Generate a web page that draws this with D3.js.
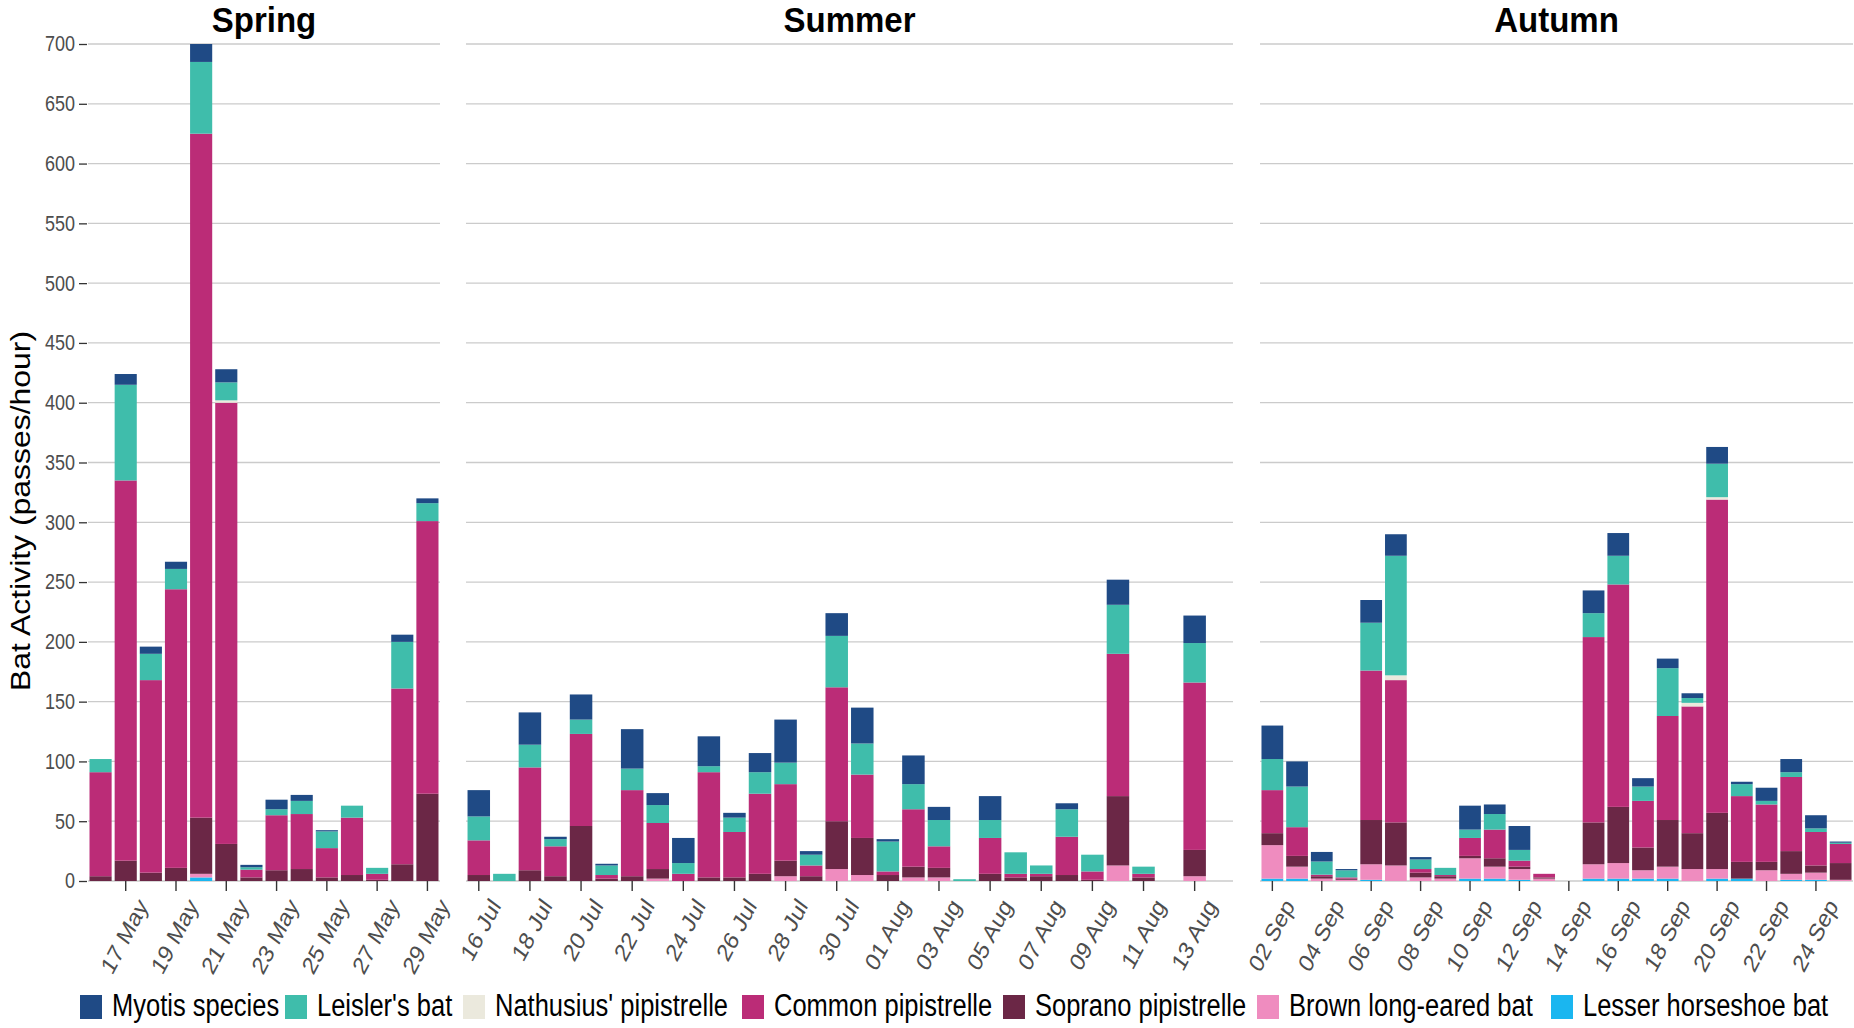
<!DOCTYPE html>
<html>
<head>
<meta charset="utf-8">
<script src="https://cdn.jsdelivr.net/npm/d3@7"></script>
<style>
  html, body { margin: 0; padding: 0; background: #fff; }
  svg { display: block; font-family: "Liberation Sans", Arial, sans-serif; }
</style>
</head>
<body>
<svg id="chart" width="1854" height="1028"></svg>
<script>
// ---------- DATA ----------
const seasons = ["Spring", "Summer", "Autumn"];

const springDates = ["2019-05-16","2019-05-17","2019-05-18","2019-05-19","2019-05-20","2019-05-21","2019-05-22","2019-05-23","2019-05-24","2019-05-25","2019-05-26","2019-05-27","2019-05-28","2019-05-29"];
const summerDates = ["2019-07-16","2019-07-17","2019-07-18","2019-07-19","2019-07-20","2019-07-21","2019-07-22","2019-07-23","2019-07-24","2019-07-25","2019-07-26","2019-07-27","2019-07-28","2019-07-29","2019-07-30","2019-07-31","2019-08-01","2019-08-02","2019-08-03","2019-08-04","2019-08-05","2019-08-06","2019-08-07","2019-08-08","2019-08-09","2019-08-10","2019-08-11","2019-08-12","2019-08-13","2019-08-14"];
const autumnDates = ["2019-09-02","2019-09-03","2019-09-04","2019-09-05","2019-09-06","2019-09-07","2019-09-08","2019-09-09","2019-09-10","2019-09-11","2019-09-12","2019-09-13","2019-09-14","2019-09-15","2019-09-16","2019-09-17","2019-09-18","2019-09-19","2019-09-20","2019-09-21","2019-09-22","2019-09-23","2019-09-24","2019-09-25"];

const springTicks = ["17 May","19 May","21 May","23 May","25 May","27 May","29 May"];
const summerTicks = ["16 Jul","18 Jul","20 Jul","22 Jul","24 Jul","26 Jul","28 Jul","30 Jul","01 Aug","03 Aug","05 Aug","07 Aug","09 Aug","11 Aug","13 Aug"];
const autumnTicks = ["02 Sep","04 Sep","06 Sep","08 Sep","10 Sep","12 Sep","14 Sep","16 Sep","18 Sep","20 Sep","22 Sep","24 Sep"];

const yTicks = [0,50,100,150,200,250,300,350,400,450,500,550,600,650,700];

// species in stacking order (bottom -> top)
const species = ["Lesser horseshoe bat","Brown long-eared bat","Soprano pipistrelle","Common pipistrelle","Nathusius' pipistrelle","Leisler's bat","Myotis species"];
const legendOrder = ["Myotis species","Leisler's bat","Nathusius' pipistrelle","Common pipistrelle","Soprano pipistrelle","Brown long-eared bat","Lesser horseshoe bat"];
const colors = ["#1ab6f0","#ef8cbf","#6b2746","#bb2c77","#ebe9dd","#3fbdab","#1f4a85"];

// values: spring (14) | summer (30) | autumn (24)
const lesserHorseshoe = [0,0,0,0,3,0,0,0,0,0,0,0,0,0,
  0,0,0,0,0,0,0,0,0,0,0,0,0,0,0,0,0,0,0,0,0,0,0,0,0,0,0,0,0,0,
  2,2,0,0,1,0,0,0,2,2,1,0,0,2,2,2,2,0,2,2,0,1,1,0];
const brownLongEared = [0,0,0,0,3,0,0,0,0,0,0,0,0,0,
  0,0,0,0,0,0,0,2,0,0,0,0,4,0,10,5,0,3,3,0,0,0,0,0,0,13,0,0,4,0,
  28,10,2,1,13,13,3,2,17,10,9,2,0,12,13,7,10,10,8,0,9,5,6,1];
const sopranoPip = [4,17,7,11,47,31,3,9,10,3,5,1,14,73,
  5,0,9,4,46,2,4,8,0,3,3,6,13,4,40,31,5,9,8,0,6,3,4,5,1,58,3,0,22,0,
  10,9,2,1,37,36,4,2,2,7,2,1,0,35,47,19,39,30,47,14,7,19,6,14];
const commonPip = [87,318,161,233,572,369,6.5,46,46,24.5,48,5,147,228,
  29,0,86,25,77,3,72,38.5,6,88,38,67,64,9,112,53,3,48,18,0,30,3,2,32,7,119,3,0,140,0,
  36,24,1.3,1,125,119,3,1,15,24,5,3,0,155,186,39,87,106,262,55,48,62,28,16];
const nathusiusPip = [0,0,0,0,0,2,0,0,0,0,0,0,0,0,
  0,0,0,0,0,0,0,0,0,0,0,0,0,0,0,0,0,0,0,0,0,0,0,0,0,0,0,0,0,0,
  0,0,0,0,0,4,0,0,0,0,0,0,0,0,0,0,0,3,2,0,0,0,0,0];
const leislersBat = [11,80,22,17,60,15,2,5,11,14,10,5,39,15,
  20,6,19,6,12,8,18,15,9,5,12,18,18,9,43,26,25,21,22,1.5,15,18,7,23,14,41,6,0,33,0,
  26,34,11,6,40,100,8,6,7,13,9,0,0,20,24,12,40,4,28,10,3,4,3,1];
const myotisSpp = [0,9,6,6,15,11,2,8,5,1,0,0,6,4,
  22,0,27,2,21,1.4,33,10,21,25,4,16,36,3,19,30,2,24,11,0,20,0,0,5,0,21,0,0,23,0,
  28,21,8,1,19,18,2,0,20,8,20,0,0,19,19,7,8,4,14,2,11,11,11,1];

// ---------- BUILD ----------
const seriesValues = [lesserHorseshoe, brownLongEared, sopranoPip, commonPip, nathusiusPip, leislersBat, myotisSpp];
const allDates = springDates.concat(summerDates, autumnDates);
const rows = allDates.map((d, i) => {
  const r = { date: d };
  species.forEach((s, k) => r[s] = seriesValues[k][i]);
  return r;
});
const parse = d3.timeParse("%Y-%m-%d");
const fmt = d3.timeFormat("%d %b");

const svg = d3.select("#chart");
const y = d3.scaleLinear().domain([0, 700]).range([881, 44]);
const color = d3.scaleOrdinal().domain(species).range(colors);
const SY = 1.2; // vertical stretch of glyphs seen in the reference

const panels = [
  { name: seasons[0], dates: springDates, ticks: springTicks, range: [88, 440] },
  { name: seasons[1], dates: summerDates, ticks: summerTicks, range: [466, 1233] },
  { name: seasons[2], dates: autumnDates, ticks: autumnTicks, range: [1260, 1853] }
];

const stack = d3.stack().keys(species);

panels.forEach(p => {
  const x = d3.scaleBand().domain(p.dates).range(p.range).paddingInner(0.12).paddingOuter(0.06);
  const g = svg.append("g");

  // gridlines
  g.selectAll("line.grid").data(yTicks).join("line")
    .attr("x1", p.range[0]).attr("x2", p.range[1])
    .attr("y1", d => y(d)).attr("y2", d => y(d))
    .attr("stroke", "#cbcbcb").attr("stroke-width", 1.3);

  // bars
  const data = rows.filter(r => p.dates.includes(r.date));
  const layers = stack(data);
  g.selectAll("g.layer").data(layers).join("g")
    .attr("fill", d => color(d.key))
    .selectAll("rect").data(d => d).join("rect")
    .attr("x", d => x(d.data.date))
    .attr("width", x.bandwidth())
    .attr("y", d => y(d[1]))
    .attr("height", d => Math.max(0, y(d[0]) - y(d[1])));

  // x ticks
  const tickDates = p.dates.filter(d => p.ticks.includes(fmt(parse(d))));
  const xt = g.selectAll("g.xt").data(tickDates).join("g")
    .attr("transform", d => `translate(${x(d) + x.bandwidth() / 2},881)`);
  xt.append("line").attr("y1", 0).attr("y2", 10).attr("stroke", "#333").attr("stroke-width", 1.4);
  xt.append("text")
    .attr("transform", `translate(23,25) scale(1,${SY}) rotate(-58)`)
    .attr("text-anchor", "end")
    .attr("font-size", 21)
    .attr("fill", "#4d4d4d")
    .text(d => fmt(parse(d)));

  // panel title
  g.append("text")
    .attr("transform", `translate(${(p.range[0] + p.range[1]) / 2},32) scale(1,1.05)`)
    .attr("text-anchor", "middle")
    .attr("font-size", 33).attr("font-weight", "bold").attr("fill", "#000")
    .text(p.name);
});

// y axis
const yAxis = svg.append("g").attr("transform", "translate(87,0)")
  .call(d3.axisLeft(y).tickValues(yTicks).tickSize(8).tickPadding(4));
yAxis.select(".domain").remove();
yAxis.selectAll(".tick line").attr("stroke", "#333").attr("stroke-width", 1.3);
yAxis.selectAll(".tick text")
  .attr("font-size", 18).attr("fill", "#4d4d4d")
  .attr("font-family", "'Liberation Sans', Arial, sans-serif")
  .attr("transform", `scale(1,${SY})`);

svg.append("text")
  .attr("transform", `translate(30,511) scale(1,1.14) rotate(-90)`)
  .attr("text-anchor", "middle")
  .attr("font-size", 28).attr("fill", "#000")
  .text("Bat Activity (passes/hour)");

// legend
const legendX = [80, 285, 463, 742, 1003, 1257, 1551];
const lg = svg.append("g").selectAll("g").data(legendOrder).join("g")
  .attr("transform", (d, i) => `translate(${legendX[i]},995)`);
lg.append("rect").attr("width", 22).attr("height", 24).attr("fill", d => color(d));
lg.append("text")
  .attr("transform", `translate(32,21) scale(1,${SY})`)
  .attr("font-size", 25.5).attr("fill", "#000").text(d => d);
</script>
</body>
</html>
